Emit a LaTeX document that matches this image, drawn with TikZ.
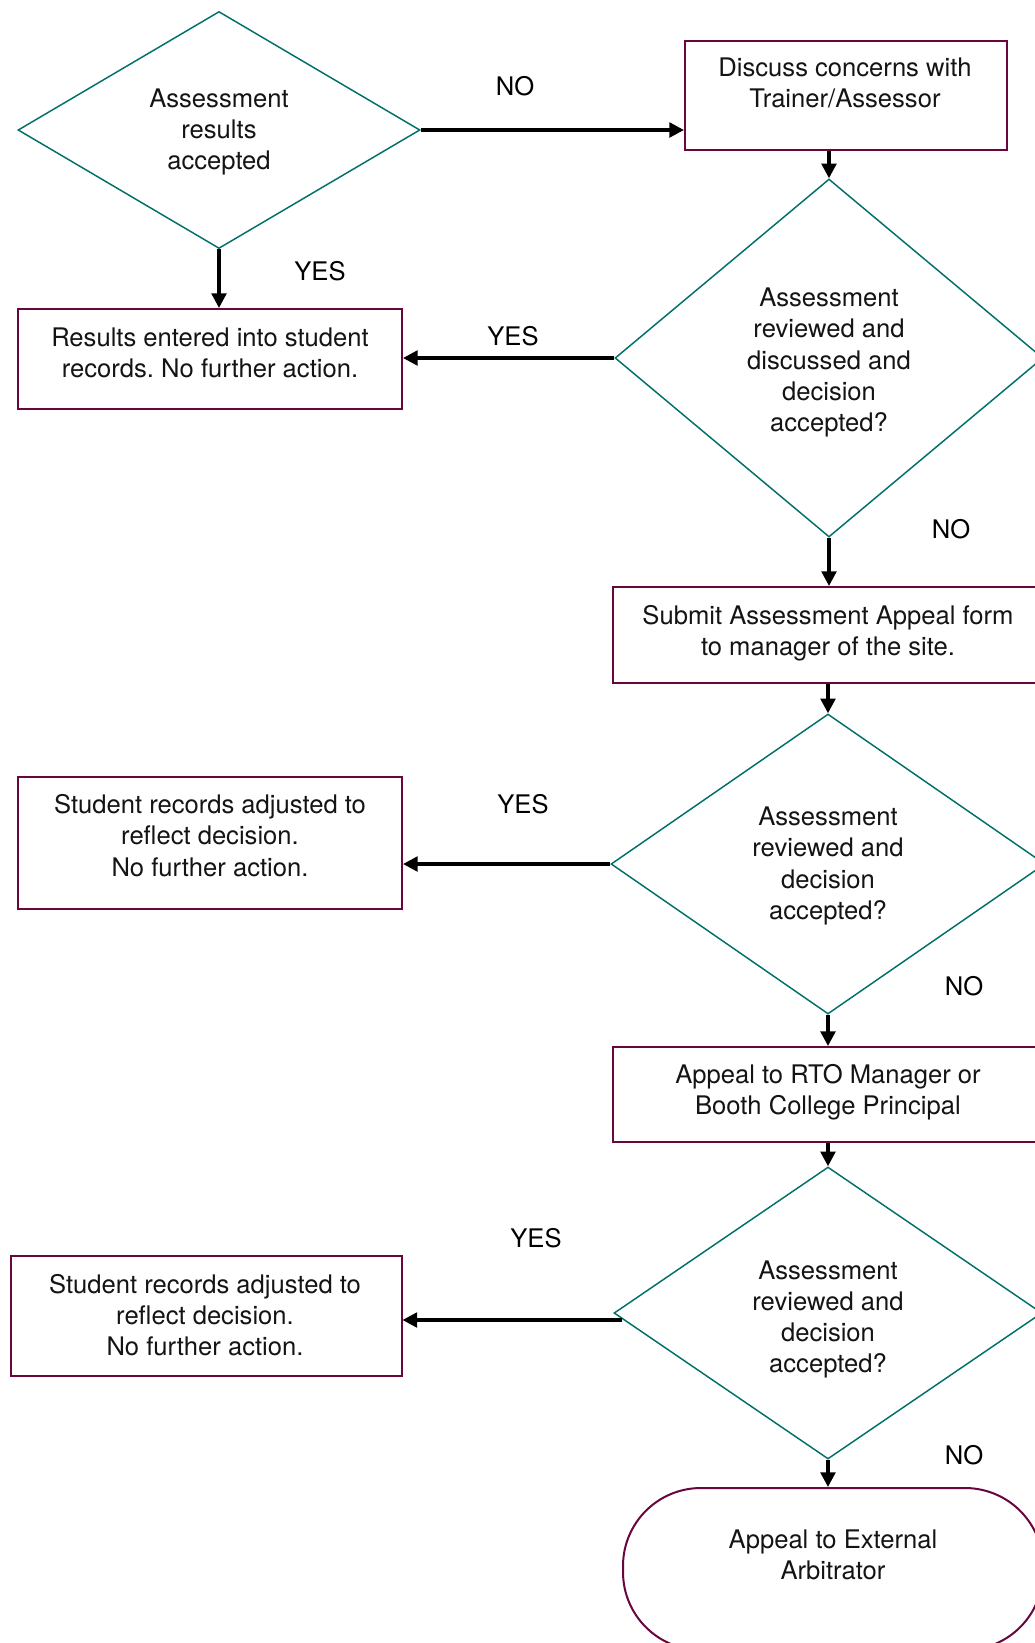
\documentclass[tikz,border=0pt]{standalone}
\usepackage{fontspec}
\setmainfont{TeX Gyre Heros}
\frenchspacing
\usetikzlibrary{shapes.geometric,arrows.meta,calc}
\definecolor{teal1}{RGB}{0,112,106}
\definecolor{maroon1}{RGB}{104,6,62}
\definecolor{ink}{RGB}{20,20,20}
\begin{document}
\begin{tikzpicture}[x={(0.75pt,0)},y={(0,-0.75pt)},
  font=\fontsize{19.2}{23.4}\selectfont,
  dia/.style={draw=teal1,line width=1.1pt,shape=diamond,inner sep=0pt},
  box/.style={draw=maroon1,line width=1.5pt,shape=rectangle,inner sep=0pt},
  txt/.style={align=center,text=ink,inner sep=0pt},
  lbl/.style={text=black,inner sep=0pt},
  arr/.style={line width=2.5pt,-{Triangle[length=11pt,width=11pt]}}]
\useasboundingbox (0,0) rectangle (1035,1643);
\fill[white] (0,0) rectangle (1035,1643);

% diamonds
\node[dia,minimum width={402*0.75pt},minimum height={237*0.75pt}] (D1) at (219,130) {};
\node[txt] (D1t) at (219,132) {Assessment\\results\\accepted};
\node[dia,minimum width={428*0.75pt},minimum height={358*0.75pt}] (D2) at (829,358) {};
\node[txt] (D2t) at (829,362.5) {Assessment\\reviewed and\\discussed and\\decision\\accepted?};
\node[dia,minimum width={434*0.75pt},minimum height={300*0.75pt}] (D3) at (828,864) {};
\node[txt] (D3t) at (828,866) {Assessment\\reviewed and\\decision\\accepted?};
\node[dia,minimum width={428*0.75pt},minimum height={292*0.75pt}] (D4) at (828,1313) {};
\node[txt] (D4t) at (828,1319.5) {Assessment\\reviewed and\\decision\\accepted?};

% boxes
\node[box,minimum width={322*0.75pt},minimum height={109*0.75pt}] (B1) at (846,95.5) {};
\node[txt] (B1t) at (845,83) {Discuss concerns with\\Trainer/Assessor};
\node[box,minimum width={384*0.75pt},minimum height={100*0.75pt}] (B2) at (210,359) {};
\node[txt] (B2t) at (210,352.5) {Results entered into student\\records. No further action.};
\node[box,minimum width={430*0.75pt},minimum height={96*0.75pt}] (B3) at (828,635) {};
\node[txt] (B3t) at (828,633) {Submit Assessment Appeal form\\to manager of the site.};
\node[box,minimum width={384*0.75pt},minimum height={132*0.75pt}] (B4) at (210,843) {};
\node[txt] (B4t) at (210,835.5) {Student records adjusted to\\reflect decision.\\No further action.};
\node[box,minimum width={430*0.75pt},minimum height={95*0.75pt}] (B5) at (828,1094.5) {};
\node[txt] (B5t) at (828,1092) {Appeal to RTO Manager or\\Booth College Principal};
\node[box,minimum width={391*0.75pt},minimum height={120*0.75pt}] (B6) at (206,1316) {};
\node[txt] (B6t) at (205,1315) {Student records adjusted to\\reflect decision.\\No further action.};
\node[box,rounded corners={78*0.75pt},minimum width={420*0.75pt},minimum height={162*0.75pt}] (B7) at (833,1569) {};
\node[txt] (B7t) at (833,1555) {Appeal to External\\Arbitrator};

% labels
\node[lbl] (L1) at (515,86) {NO};
\node[lbl] (L2) at (320,271) {YES};
\node[lbl] (L3) at (513,336) {YES};
\node[lbl] (L4) at (951,529) {NO};
\node[lbl] (L5) at (523,804) {YES};
\node[lbl] (L6) at (964,986) {NO};
\node[lbl] (L7) at (536,1238) {YES};
\node[lbl] (L8) at (964,1455) {NO};

% connectors
\draw[arr] (D1.east) -- (D1.east -| B1.west);
\draw[arr] (B1.south -| D2.north) -- (D2.north);
\draw[arr] (D1.south) -- (D1.south |- B2.north);
\draw[arr] (D2.west) -- (D2.west -| B2.east);
\draw[arr] (D2.south) -- (D2.south |- B3.north);
\draw[arr] (B3.south -| D3.north) -- (D3.north);
\draw[arr] (D3.west) -- (D3.west -| B4.east);
\draw[arr] (D3.south) -- (D3.south |- B5.north);
\draw[arr] (B5.south -| D4.north) -- (D4.north);
\coordinate (D4o) at ($(D4.west)+(9,7)$);
\draw[arr] (D4o) -- (D4o -| B6.east);
\draw[arr] (D4.south) -- (D4.south |- B7.north);
\end{tikzpicture}
\end{document}
